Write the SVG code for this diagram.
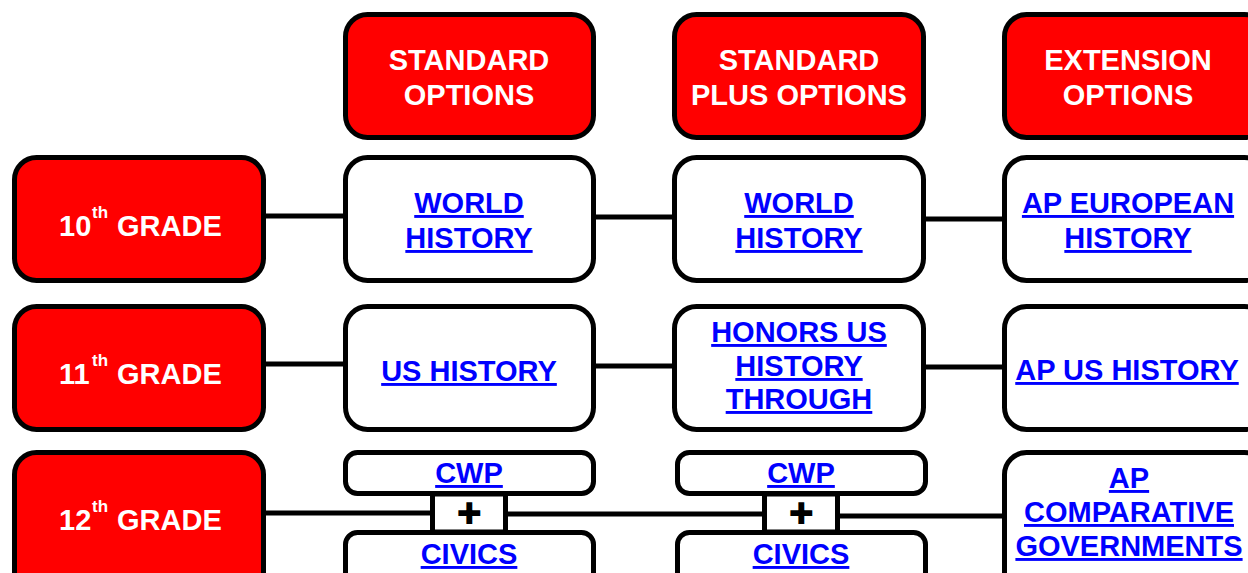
<svg xmlns="http://www.w3.org/2000/svg" width="1248" height="573" viewBox="0 0 1248 573">
<style>
.red{fill:#ff0000;stroke:#000;stroke-width:5}
.wht{fill:#fff;stroke:#000;stroke-width:5}
.conn{stroke:#000;stroke-width:5;fill:none}
.hd{font-family:"Liberation Sans",Arial,sans-serif;font-weight:bold;font-size:29px;fill:#fff;text-anchor:middle}
.gr{font-family:"Liberation Sans",Arial,sans-serif;font-weight:bold;font-size:29px;fill:#fff}
.sup{font-size:17px}
.lk{font-family:"Liberation Sans",Arial,sans-serif;font-weight:bold;font-size:29px;fill:#0000ff;text-anchor:middle;text-decoration:underline}
.pl{font-family:"DejaVu Sans",sans-serif;font-weight:bold;font-size:30px;fill:#000;text-anchor:middle}
</style>
<rect width="1248" height="573" fill="#fff"/>
<g id="connectors">
<line class="conn" x1="264" y1="216" x2="346" y2="216"/>
<line class="conn" x1="594" y1="217" x2="675" y2="217"/>
<line class="conn" x1="924" y1="219" x2="1005" y2="219"/>
<line class="conn" x1="264" y1="364" x2="346" y2="364"/>
<line class="conn" x1="594" y1="366" x2="675" y2="366"/>
<line class="conn" x1="924" y1="367" x2="1005" y2="367"/>
<line class="conn" x1="264" y1="513" x2="433" y2="513"/>
<line class="conn" x1="506" y1="514" x2="765" y2="514"/>
<line class="conn" x1="838" y1="516" x2="1005" y2="516"/>
</g>
<g id="hdr-standard">
<rect class="red" x="345.5" y="14.5" width="248" height="123" rx="22"/>
<text class="hd" x="469" y="70">STANDARD</text>
<text class="hd" x="469" y="105">OPTIONS</text>
</g>
<g id="hdr-plus">
<rect class="red" x="674.5" y="14.5" width="249" height="123" rx="22"/>
<text class="hd" x="799" y="70">STANDARD</text>
<text class="hd" x="799" y="105">PLUS OPTIONS</text>
</g>
<g id="hdr-ext">
<rect class="red" x="1004.5" y="14.5" width="262" height="123" rx="22"/>
<text class="hd" x="1128" y="70">EXTENSION</text>
<text class="hd" x="1128" y="105">OPTIONS</text>
</g>
<g id="grade10">
<rect class="red" x="14.5" y="157.5" width="249" height="123" rx="22"/>
<text class="gr" x="59" y="236">10<tspan class="sup" x="92" y="218">th</tspan><tspan x="117" y="236">GRADE</tspan></text>
</g>
<g id="grade11">
<rect class="red" x="14.5" y="306.5" width="249" height="123" rx="22"/>
<text class="gr" x="59" y="384">11<tspan class="sup" x="92" y="366">th</tspan><tspan x="117" y="384">GRADE</tspan></text>
</g>
<g id="grade12">
<rect class="red" x="14.5" y="452.5" width="249" height="150" rx="22"/>
<text class="gr" x="59" y="530">12<tspan class="sup" x="92" y="512">th</tspan><tspan x="117" y="530">GRADE</tspan></text>
</g>
<g id="world1">
<rect class="wht" x="345.5" y="157.5" width="248" height="123" rx="22"/>
<text class="lk" x="469" y="213">WORLD</text>
<text class="lk" x="469" y="248">HISTORY</text>
</g>
<g id="world2">
<rect class="wht" x="674.5" y="157.5" width="249" height="123" rx="22"/>
<text class="lk" x="799" y="213">WORLD</text>
<text class="lk" x="799" y="248">HISTORY</text>
</g>
<g id="apeuro">
<rect class="wht" x="1004.5" y="157.5" width="262" height="123" rx="22"/>
<text class="lk" x="1128" y="213">AP EUROPEAN</text>
<text class="lk" x="1128" y="248">HISTORY</text>
</g>
<g id="ushist">
<rect class="wht" x="345.5" y="306.5" width="248" height="123" rx="22"/>
<text class="lk" x="469" y="381">US HISTORY</text>
</g>
<g id="honors">
<rect class="wht" x="674.5" y="306.5" width="249" height="123" rx="22"/>
<text class="lk" x="799" y="342">HONORS US</text>
<text class="lk" x="799" y="376">HISTORY</text>
<text class="lk" x="799" y="409">THROUGH</text>
</g>
<g id="apus">
<rect class="wht" x="1004.5" y="306.5" width="262" height="123" rx="22"/>
<text class="lk" x="1127" y="380">AP US HISTORY</text>
</g>
<g id="plus1">
<rect class="wht" x="432.5" y="494" width="73" height="38"/>
<text class="pl" x="469" y="524">✚</text>
</g>
<g id="cwp1">
<rect class="wht" x="345.5" y="452.5" width="248" height="41" rx="12"/>
<text class="lk" x="469" y="483">CWP</text>
</g>
<g id="civics1">
<rect class="wht" x="345.5" y="532.5" width="248" height="70" rx="12"/>
<text class="lk" x="469" y="564">CIVICS</text>
</g>
<g id="plus2">
<rect class="wht" x="764.5" y="494" width="73" height="38"/>
<text class="pl" x="801" y="524">✚</text>
</g>
<g id="cwp2">
<rect class="wht" x="677.5" y="452.5" width="248" height="41" rx="12"/>
<text class="lk" x="801" y="483">CWP</text>
</g>
<g id="civics2">
<rect class="wht" x="677.5" y="532.5" width="248" height="70" rx="12"/>
<text class="lk" x="801" y="564">CIVICS</text>
</g>
<g id="apcomp">
<rect class="wht" x="1004.5" y="452.5" width="262" height="150" rx="22"/>
<text class="lk" x="1129" y="488">AP</text>
<text class="lk" x="1129" y="522">COMPARATIVE</text>
<text class="lk" x="1129" y="556">GOVERNMENTS</text>
</g>
</svg>
